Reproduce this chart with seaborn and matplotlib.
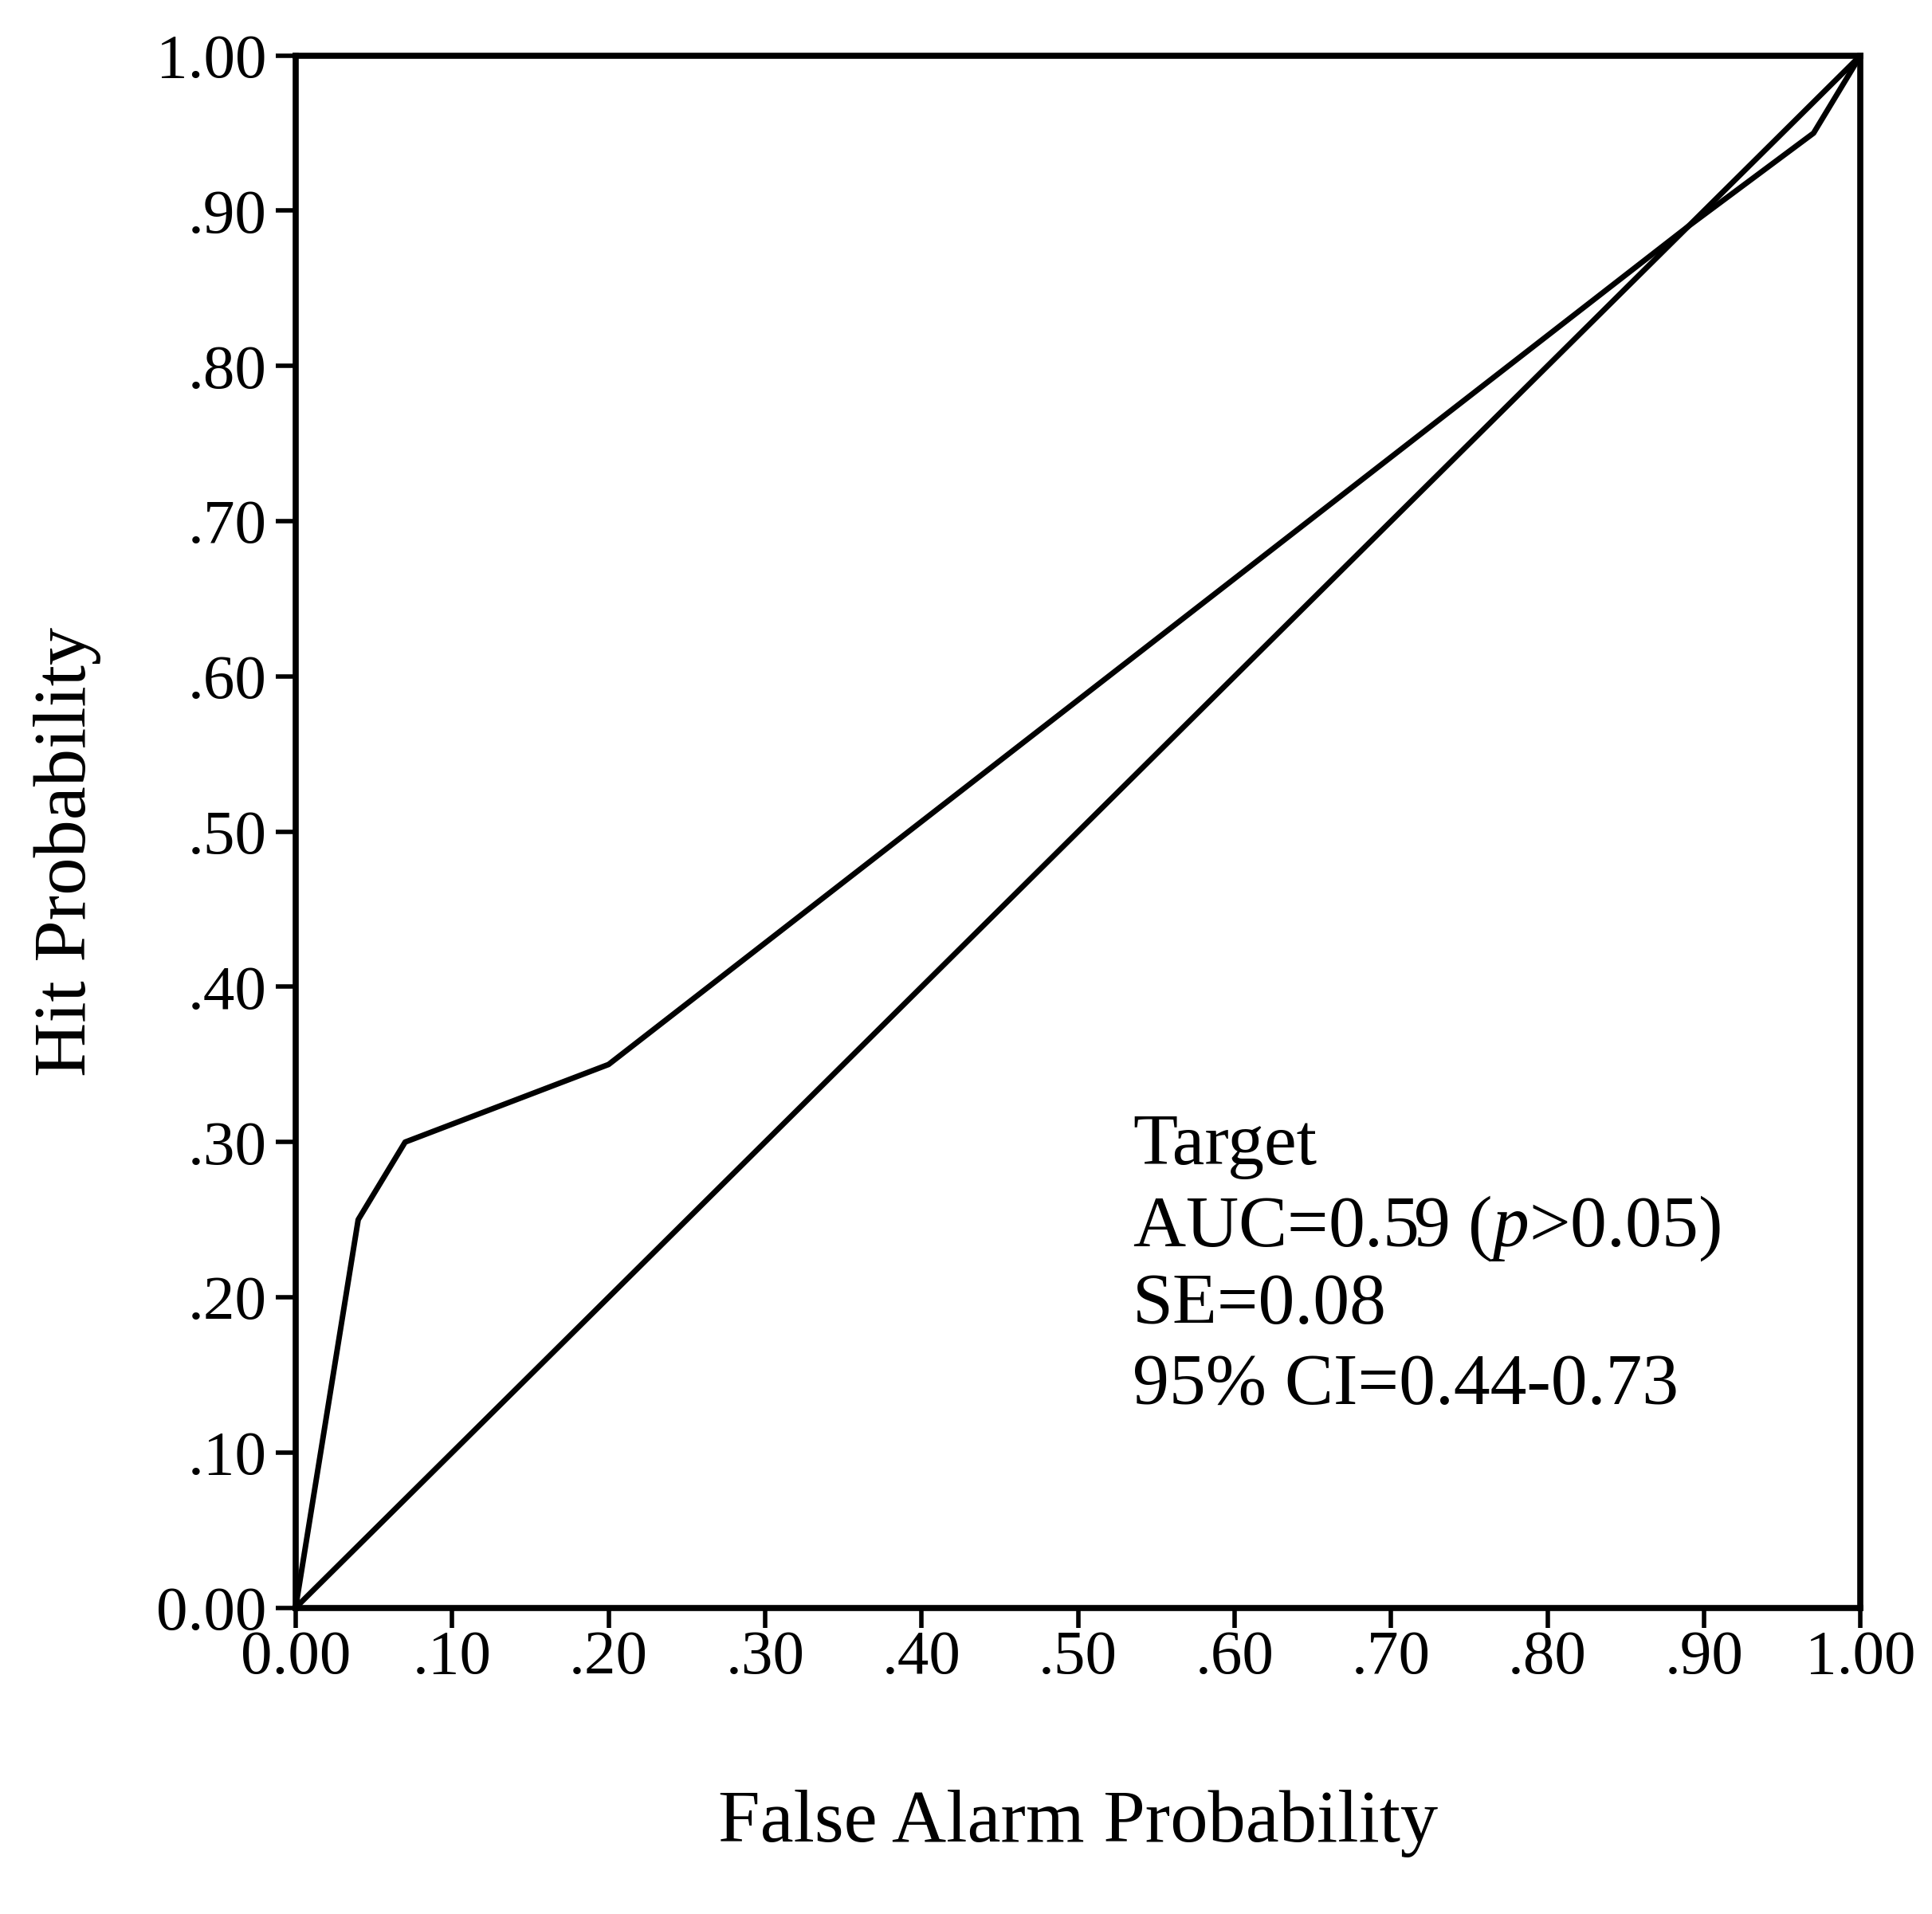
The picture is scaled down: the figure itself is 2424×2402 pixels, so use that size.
import matplotlib
matplotlib.use("Agg")
import matplotlib.pyplot as plt
import seaborn as sns
import pandas as pd

# ROC curve data
roc_fpr = [0.00, 0.04, 0.07, 0.20, 0.89, 0.97, 1.00]
roc_tpr = [0.00, 0.25, 0.30, 0.35, 0.89, 0.95, 1.00]
# chance diagonal
diag_fpr = [0.00, 1.00]
diag_tpr = [0.00, 1.00]

tick_vals = [0.0, 0.1, 0.2, 0.3, 0.4, 0.5, 0.6, 0.7, 0.8, 0.9, 1.0]
x_tick_labels = ["0.00", ".10", ".20", ".30", ".40", ".50", ".60", ".70", ".80", ".90", "1.00"]
y_tick_labels = ["0.00", ".10", ".20", ".30", ".40", ".50", ".60", ".70", ".80", ".90", "1.00"]

annot_lines = ["Target", "AUC=0.59 ($\\mathit{p}$>0.05)", "SE=0.08", "95% CI=0.44-0.73"]
annot_baselines = [0.286, 0.233, 0.183, 0.131]

x_label = "False Alarm Probability"
y_label = "Hit Probability"

sns.set_theme(style="white")
plt.rcParams["font.family"] = ["Liberation Serif", "DejaVu Serif"]
plt.rcParams["mathtext.fontset"] = "custom"
plt.rcParams["mathtext.rm"] = "Liberation Serif"
plt.rcParams["mathtext.it"] = "Liberation Serif:italic"

fig = plt.figure(figsize=(24.24, 24.02), dpi=100)
ax = fig.add_axes([0.153, 0.160, 0.810, 0.811])

roc_df = pd.DataFrame({"fpr": roc_fpr, "tpr": roc_tpr})
diag_df = pd.DataFrame({"fpr": diag_fpr, "tpr": diag_tpr})
sns.lineplot(data=roc_df, x="fpr", y="tpr", ax=ax, color="black", lw=5, sort=False,
             estimator=None)
sns.lineplot(data=diag_df, x="fpr", y="tpr", ax=ax, color="black", lw=5, sort=False,
             estimator=None)

ax.set_xlim(0, 1)
ax.set_ylim(0, 1)
ax.set_xticks(tick_vals)
ax.set_xticklabels(x_tick_labels)
ax.set_yticks(tick_vals)
ax.set_yticklabels(y_tick_labels)

for s in ax.spines.values():
    s.set_visible(True)
    s.set_color("black")
    s.set_linewidth(5.5)

ax.tick_params(axis="both", which="both", direction="out", length=18, width=4,
               color="black", labelsize=57, labelcolor="black", pad=8,
               bottom=True, left=True, top=False, right=False)
ax.tick_params(axis="x", pad=2)

ax.set_xlabel(x_label, fontsize=68, color="black")
ax.set_ylabel(y_label, fontsize=68, color="black")
ax.xaxis.set_label_coords(0.5, -0.139)
ax.xaxis.label.set_va("center")
ax.yaxis.set_label_coords(-0.146, 0.487)
ax.yaxis.label.set_va("center")

for txt, yb in zip(annot_lines, annot_baselines):
    ax.text(0.535, yb, txt, fontsize=66, color="black", ha="left", va="baseline")

ax.grid(False)
fig.savefig("out.png", dpi=100, facecolor="white")
